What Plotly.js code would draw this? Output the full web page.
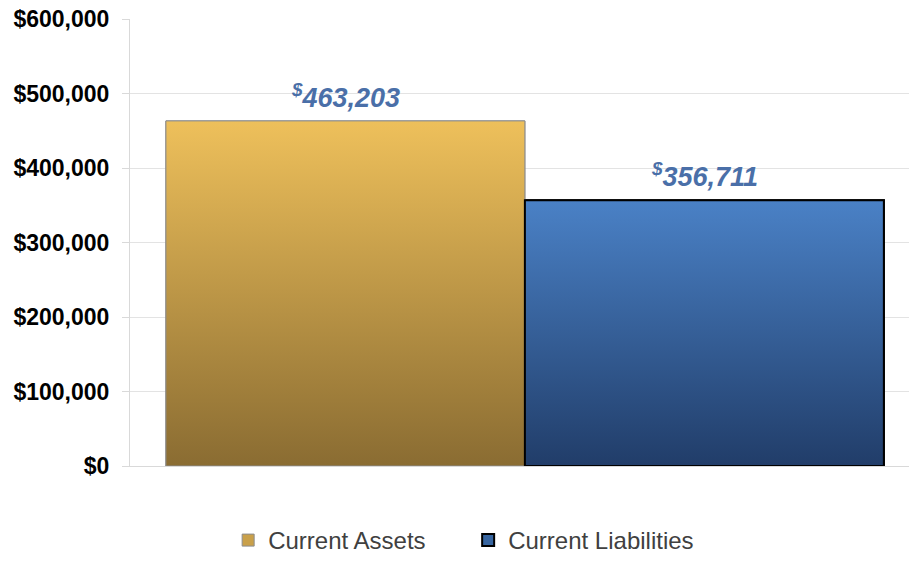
<!DOCTYPE html>
<html>
<head>
<meta charset="utf-8">
<script src="https://cdn.plot.ly/plotly-3.0.1.min.js"></script>
<style>html,body{margin:0;padding:0;background:#fff;}#chart{width:909px;height:563px;}</style>
</head>
<body>
<div id="chart"></div>
<script>
const categories = ['Current Assets', 'Current Liabilities'];
const values = [463203, 356711];
const topColors = ['#EEC05B', '#4A81C6'];
const bottomColors = ['#8A6C32', '#213D69'];
const midColors = ['#C9A04A', '#3765A0'];
const edgeColors = ['#8c8c8c', '#000000'];
const edgeWidths = [1, 2];
const yTicks = [0, 100000, 200000, 300000, 400000, 500000, 600000];
const yTickText = yTicks.map(v => '$' + v.toLocaleString('en-US'));

const traces = [];
categories.forEach((name, i) => {
  traces.push({
    type: 'bar', name: name, x: [i], y: [values[i]], width: 1,
    marker: { color: midColors[i], line: { color: edgeColors[i], width: edgeWidths[i] } },
    showlegend: true, hoverinfo: 'y+name'
  });
});
categories.forEach((name, i) => {
  traces.push({
    type: 'scatter', mode: 'lines', showlegend: false, hoverinfo: 'skip',
    x: [i - 0.5, i + 0.5, i + 0.5, i - 0.5, i - 0.5],
    y: [0, 0, values[i], values[i], 0],
    fill: 'toself',
    fillgradient: { type: 'vertical', colorscale: [[0, bottomColors[i]], [1, topColors[i]]] },
    line: { color: edgeColors[i], width: edgeWidths[i] }
  });
});

const annotations = categories.map((name, i) => ({
  x: i, y: values[i], xref: 'x', yref: 'y', showarrow: false,
  yanchor: 'bottom', yshift: 6,
  text: '<sup>$</sup>' + values[i].toLocaleString('en-US'),
  font: { family: 'Liberation Sans, Arial, sans-serif', size: 27, color: '#4A6FA8', weight: 'bold', style: 'italic' }
}));

const layout = {
  width: 909, height: 563,
  margin: { l: 130, r: 0, t: 19, b: 97 },
  paper_bgcolor: '#ffffff', plot_bgcolor: '#ffffff',
  barmode: 'overlay', bargap: 0,
  xaxis: {
    range: [-0.6, 1.57], showticklabels: false, showgrid: false, zeroline: false,
    showline: true, linecolor: '#d9d9d9', linewidth: 1, fixedrange: true
  },
  yaxis: {
    range: [0, 600000], tickmode: 'array', tickvals: yTicks, ticktext: yTickText,
    showgrid: true, gridcolor: '#e3e3e3', gridwidth: 1, zeroline: false,
    showline: true, linecolor: '#d9d9d9', ticks: 'outside', ticklen: 7, tickcolor: '#d9d9d9',
    ticklabelstandoff: 8,
    tickfont: { family: 'Liberation Sans, Arial, sans-serif', size: 23, color: '#000000', weight: 'bold' },
    fixedrange: true
  },
  legend: {
    orientation: 'h', x: 0.126, xanchor: 'left', xref: 'paper',
    y: -0.012, yanchor: 'bottom', yref: 'container',
    font: { family: 'Liberation Sans, Arial, sans-serif', size: 24, color: '#404040' },
    entrywidth: 195, itemwidth: 30
  },
  annotations: annotations
};

Plotly.newPlot('chart', traces, layout, { displayModeBar: false, staticPlot: true });
</script>
</body>
</html>
